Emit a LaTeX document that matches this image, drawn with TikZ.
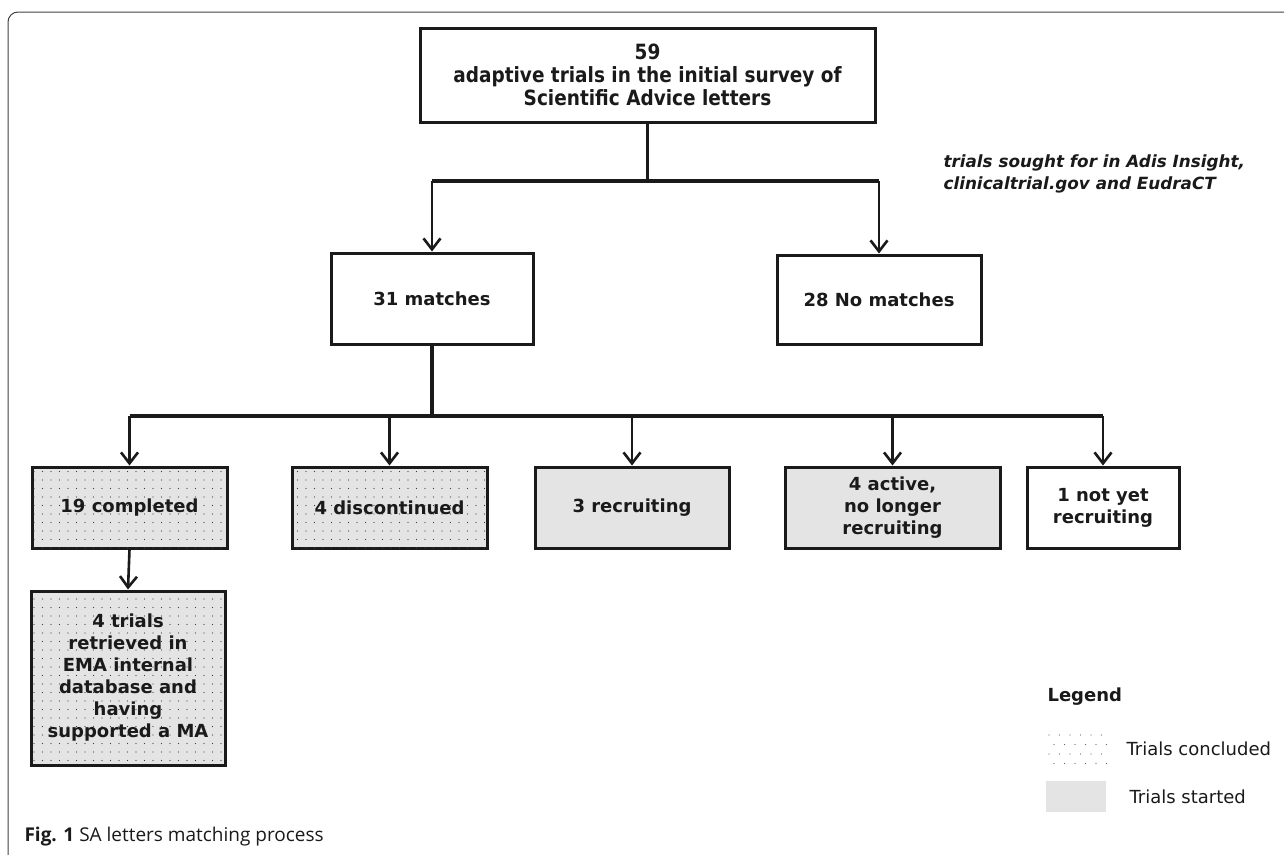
\documentclass[tikz,border=0pt]{standalone}
\usepackage{fontspec}
\setmainfont{DejaVu Sans}
\newfontfamily\condfont[FakeStretch=0.88]{DejaVu Sans}
\newfontfamily\capfont{Open Sans}
\usetikzlibrary{arrows.meta,patterns.meta}
\definecolor{boxgray}{HTML}{E4E4E4}
\definecolor{ink}{HTML}{1A1A1A}
\tikzset{
  flowbox/.style={draw=ink, line width=3pt, align=center, inner sep=0pt,
    font=\bfseries\fontsize{18}{22}\selectfont, text=ink},
  startedbox/.style={flowbox, fill=boxgray},
  concludedbox/.style={flowbox, fill=boxgray,
    postaction={pattern={Dots[distance=8.5pt,radius=0.65pt]}, pattern color=black!75}},
  link/.style={draw=ink, line width=2.6pt},
  bar/.style={draw=ink, line width=3.4pt},
  arrowlink/.style={link, -{Straight Barb[length=11pt,width=17pt]}},
  legdot/.style={fill=black!60},
}
\begin{document}
\begin{tikzpicture}[x=1pt,y=-1pt]
\useasboundingbox (0,0) rectangle (1284,854);
% frame
\draw[line width=1pt, black!75, rounded corners=10pt] (8,860) -- (8,12) -- (1290,12);

% top box
\node[flowbox, minimum width=455pt, minimum height=94pt,
  font=\condfont\bfseries\fontsize{21}{23}\selectfont] (top) at (647.5,75)
  {59\\adaptive trials in the initial survey of\\Scientific Advice letters};

\node[font=\bfseries\itshape\fontsize{16.8}{22}\selectfont, text=ink, align=left, anchor=west]
  (note) at (940,174) {trials sought for in Adis Insight,\\clinicaltrial.gov and EudraCT};

\node[flowbox, minimum width=202pt, minimum height=91pt] (m31) at (432,298.5) {31 matches};
\node[flowbox, minimum width=204pt, minimum height=89pt] (m28) at (879,299.5) {28 No matches};

\node[concludedbox, minimum width=195pt, minimum height=81pt] (c19) at (129.5,507.5) {19 completed};
\node[concludedbox, minimum width=195pt, minimum height=81pt] (disc) at (389.5,507.5) {4 discontinued};
\node[startedbox, minimum width=194pt, minimum height=81pt] (recr) at (632,507.5) {3 recruiting};
\node[startedbox, minimum width=215pt, minimum height=81pt] (act) at (892.5,507.5) {4 active,\\no longer\\recruiting};
\node[flowbox, minimum width=152pt, minimum height=81pt] (ny) at (1103,507.5) {1 not yet\\recruiting};

\node[concludedbox, minimum width=194pt, minimum height=174pt] (ema) at (128,678)
  {4 trials\\retrieved in\\EMA internal\\database and\\having\\supported a MA};

% connectors
\coordinate (h1) at (647.5,181);
\coordinate (h2) at (432,416);
\draw[link] (top.south) -- (h1);
\draw[bar] (m31.north |- h1) -- (m28.north |- h1);
\draw[arrowlink] (m31.north |- h1) -- (m31.north);
\draw[arrowlink] (m28.north |- h1) -- (m28.north);

\draw[bar] (m31.south) -- (h2);
\draw[bar] (c19.north |- h2) -- (ny.north |- h2);
\foreach \n in {c19,disc,recr,act,ny}{
  \draw[arrowlink] (\n.north |- h2) -- (\n.north);
}
\draw[arrowlink] (c19.south) -- (ema.north);

% legend
\node[font=\bfseries\fontsize{18}{21}\selectfont, text=ink, anchor=west] (leg) at (1044,697) {Legend};
\foreach \r in {0,1,2,3}{
  \foreach \c in {0,...,5}{
    \fill[legdot] ({1049+\c*10.5+mod(\r,2)*5}, {735+\r*9.5}) circle (0.7pt);
  }
}
\node[font=\fontsize{18}{21}\selectfont, text=ink, anchor=west] (lc) at (1123,749) {Trials concluded};
\path[fill=boxgray] (1046,781) rectangle (1106,812);
\node[font=\fontsize{18}{21}\selectfont, text=ink, anchor=west] (ls) at (1126,797) {Trials started};

% caption
\node[font=\capfont\fontsize{19}{22}\selectfont, text=ink, anchor=west] (cap) at (21,837)
  {\textbf{Fig. 1} SA letters matching process};
\end{tikzpicture}
\end{document}
